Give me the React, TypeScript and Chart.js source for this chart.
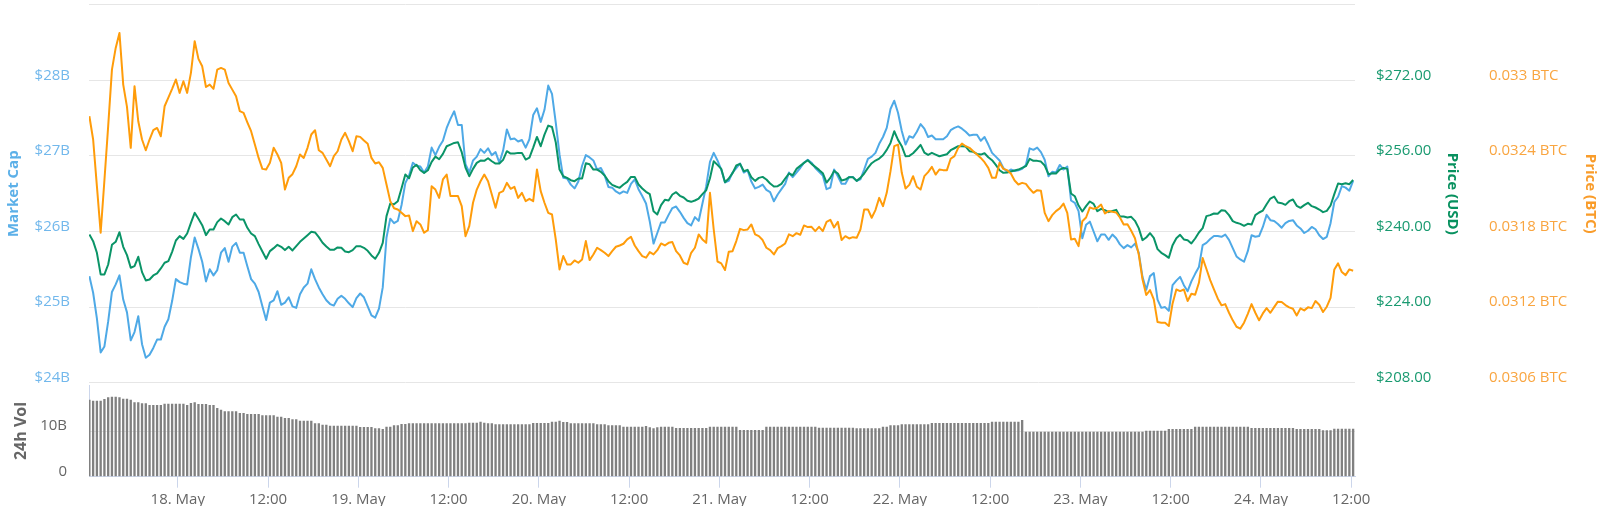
import React, { useEffect, useRef } from "react";
import { Chart, registerables } from "chart.js";

Chart.register(...registerables);

// time axis: hours since 17 May 00:00; every series is sampled every 30 minutes
const START_HOUR = 12.25;
const STEP_H = 0.5;
const X_MIN = 12.2;
const X_MAX = 180.5;

const dayLabels = ["18. May", "19. May", "20. May", "21. May", "22. May", "23. May", "24. May"];
const middayLabel = "12:00";

const capTicks = [24, 25, 26, 27, 28, 29];
const usdTicks = [208, 224, 240, 256, 272, 288];
const btcTicks = [0.0306, 0.0312, 0.0318, 0.0324, 0.033, 0.0336];
const volTicks = [0, 10, 20];

// Market cap, billions USD
const marketCapB = [
  25.41, 25.19, 24.85, 24.40, 24.48, 24.81, 25.20, 25.30, 25.42, 25.10,
  24.93, 24.56, 24.67, 24.88, 24.51, 24.33, 24.37, 24.46, 24.57, 24.57,
  24.74, 24.84, 25.08, 25.37, 25.33, 25.31, 25.30, 25.66, 25.92, 25.77,
  25.60, 25.34, 25.50, 25.42, 25.49, 25.72, 25.78, 25.60, 25.80, 25.85,
  25.72, 25.72, 25.54, 25.37, 25.31, 25.20, 25.01, 24.83, 25.06, 25.09,
  25.21, 25.03, 25.06, 25.13, 25.01, 24.99, 25.17, 25.26, 25.31, 25.50,
  25.37, 25.26, 25.17, 25.09, 25.04, 25.02, 25.11, 25.15, 25.11, 25.05,
  25.00, 25.12, 25.18, 25.13, 25.01, 24.89, 24.86, 24.98, 25.26, 25.92,
  26.17, 26.11, 26.14, 26.35, 26.64, 26.74, 26.91, 26.87, 26.86, 26.78,
  26.86, 27.11, 27.01, 27.12, 27.20, 27.37, 27.49, 27.59, 27.41, 27.41,
  26.89, 26.78, 26.94, 26.99, 27.09, 27.04, 27.10, 27.01, 27.05, 26.91,
  27.07, 27.35, 27.22, 27.23, 27.19, 27.21, 27.11, 27.22, 27.54, 27.63,
  27.45, 27.61, 27.93, 27.82, 27.44, 27.02, 26.71, 26.70, 26.62, 26.57,
  26.66, 26.87, 27.01, 26.98, 26.94, 26.82, 26.84, 26.74, 26.59, 26.58,
  26.53, 26.50, 26.53, 26.51, 26.63, 26.69, 26.56, 26.47, 26.37, 26.13,
  25.84, 25.98, 26.12, 26.12, 26.22, 26.31, 26.33, 26.26, 26.18, 26.11,
  26.08, 26.19, 26.14, 26.37, 26.60, 26.92, 27.04, 26.94, 26.82, 26.65,
  26.67, 26.78, 26.84, 26.90, 26.78, 26.81, 26.66, 26.57, 26.59, 26.62,
  26.55, 26.52, 26.40, 26.49, 26.56, 26.63, 26.78, 26.72, 26.78, 26.84,
  26.91, 26.95, 26.91, 26.84, 26.79, 26.74, 26.56, 26.58, 26.82, 26.73,
  26.63, 26.63, 26.72, 26.72, 26.67, 26.69, 26.82, 26.96, 26.99, 27.04,
  27.16, 27.25, 27.37, 27.62, 27.73, 27.57, 27.33, 27.15, 27.26, 27.24,
  27.32, 27.42, 27.36, 27.25, 27.27, 27.22, 27.22, 27.22, 27.26, 27.34,
  27.37, 27.39, 27.36, 27.32, 27.27, 27.28, 27.28, 27.20, 27.25, 27.15,
  27.04, 26.99, 26.94, 26.84, 26.79, 26.82, 26.80, 26.81, 26.83, 26.88,
  27.10, 27.08, 27.11, 27.05, 26.95, 26.73, 26.79, 26.78, 26.88, 26.82,
  26.86, 26.41, 26.38, 26.27, 25.91, 26.09, 26.13, 26.00, 25.87, 25.96,
  25.96, 25.89, 25.96, 25.91, 25.83, 25.78, 25.82, 25.79, 25.84, 25.72,
  25.40, 25.23, 25.41, 25.45, 25.10, 24.99, 25.00, 24.95, 25.29, 25.35,
  25.40, 25.29, 25.21, 25.34, 25.44, 25.53, 25.82, 25.85, 25.90, 25.94,
  25.94, 25.93, 25.96, 25.89, 25.78, 25.67, 25.63, 25.60, 25.74, 25.95,
  25.93, 25.94, 26.06, 26.22, 26.15, 26.14, 26.10, 26.05, 26.11, 26.14,
  26.15, 26.08, 26.04, 25.98, 26.01, 26.06, 26.03, 25.95, 25.90, 25.93,
  26.11, 26.39, 26.46, 26.60, 26.58, 26.54, 26.67,
];

// Price in USD
const priceUsd = [
  239.37, 237.96, 235.49, 230.91, 230.91, 233.02, 237.18, 237.82, 239.86, 236.76,
  235.00, 232.32, 232.67, 234.65, 231.40, 229.64, 229.85, 230.70, 231.12, 232.18,
  233.38, 233.73, 235.70, 238.10, 239.02, 238.45, 239.58, 241.84, 243.95, 242.68,
  241.34, 239.23, 240.43, 240.43, 241.98, 242.75, 242.19, 241.48, 243.03, 243.60,
  242.54, 242.54, 240.78, 239.58, 239.02, 237.33, 235.77, 234.23, 235.85, 236.48,
  237.18, 236.76, 236.06, 236.76, 235.99, 236.90, 237.82, 238.52, 239.23, 239.93,
  239.79, 238.81, 237.61, 236.83, 236.13, 236.13, 236.62, 236.55, 235.77, 235.63,
  236.06, 236.90, 236.90, 236.55, 235.91, 234.93, 234.23, 235.49, 237.61, 243.25,
  245.92, 245.78, 246.42, 249.17, 252.06, 251.28, 253.54, 254.10, 252.97, 252.41,
  252.97, 254.73, 255.86, 255.30, 256.43, 258.05, 258.40, 258.75, 258.89, 256.78,
  253.54, 251.70, 253.25, 254.52, 255.02, 254.95, 255.51, 254.87, 254.38, 254.38,
  255.16, 256.99, 256.50, 256.50, 256.64, 256.64, 255.23, 255.65, 257.76, 260.02,
  258.05, 260.51, 262.42, 262.13, 258.89, 253.11, 251.70, 251.35, 250.86, 250.65,
  251.21, 251.21, 254.45, 254.24, 253.11, 253.11, 252.62, 251.84, 250.65, 249.87,
  249.52, 249.24, 249.94, 250.50, 251.56, 251.56, 249.94, 249.10, 248.39, 247.90,
  244.30, 243.60, 245.57, 246.70, 246.56, 247.83, 248.32, 247.55, 247.19, 246.49,
  246.28, 246.56, 246.98, 247.90, 248.74, 251.28, 254.87, 254.10, 253.25, 250.43,
  251.21, 252.34, 253.96, 254.31, 252.76, 253.04, 251.49, 250.72, 251.35, 251.56,
  251.00, 250.15, 249.52, 249.59, 250.08, 251.21, 252.27, 251.91, 253.25, 253.89,
  254.52, 255.09, 254.31, 253.68, 253.04, 252.34, 250.36, 251.35, 252.83, 252.27,
  250.79, 251.00, 251.49, 251.49, 250.72, 251.35, 252.27, 253.47, 254.45, 255.02,
  255.44, 256.14, 257.27, 258.75, 261.22, 259.39, 258.05, 255.93, 256.00, 256.57,
  257.41, 258.33, 256.71, 256.21, 256.64, 256.28, 255.93, 256.14, 256.36, 257.20,
  257.62, 258.05, 258.05, 257.98, 256.99, 256.85, 256.43, 256.28, 256.57, 255.72,
  255.09, 254.10, 252.97, 252.41, 252.48, 252.69, 252.90, 253.11, 253.47, 253.82,
  255.37, 254.95, 254.95, 254.80, 253.96, 252.13, 252.34, 252.27, 253.11, 253.47,
  253.25, 248.04, 247.47, 245.50, 244.23, 245.36, 246.35, 245.85, 244.30, 244.80,
  244.51, 244.09, 244.37, 244.58, 243.17, 243.17, 242.96, 243.10, 242.26, 240.71,
  238.17, 238.73, 239.65, 238.66, 236.27, 235.49, 235.00, 234.43, 237.11, 238.59,
  239.30, 238.31, 238.17, 237.47, 238.52, 239.79, 240.71, 243.25, 243.46, 243.81,
  243.74, 244.51, 244.37, 243.46, 242.19, 241.84, 241.62, 241.20, 241.62, 241.48,
  243.46, 244.02, 244.44, 245.78, 246.98, 247.40, 246.13, 245.99, 245.64, 246.42,
  246.77, 245.43, 245.01, 245.57, 246.06, 245.36, 245.08, 244.65, 244.09, 244.37,
  245.50, 247.90, 250.15, 250.01, 250.22, 250.01, 250.93,
];

// Price in BTC
const priceBtc = [
  0.032715, 0.032530, 0.032160, 0.031790, 0.032207, 0.032636, 0.033085, 0.033257, 0.033376, 0.032966,
  0.032789, 0.032464, 0.032953, 0.032675, 0.032530, 0.032445, 0.032530, 0.032604, 0.032622, 0.032556,
  0.032794, 0.032863, 0.032932, 0.033006, 0.032900, 0.032992, 0.032900, 0.033059, 0.033310, 0.033170,
  0.033111, 0.032947, 0.032966, 0.032932, 0.033085, 0.033098, 0.033085, 0.032979, 0.032926, 0.032873,
  0.032755, 0.032741, 0.032667, 0.032596, 0.032490, 0.032384, 0.032297, 0.032292, 0.032345, 0.032464,
  0.032411, 0.032345, 0.032133, 0.032226, 0.032255, 0.032318, 0.032411, 0.032384, 0.032464, 0.032570,
  0.032604, 0.032445, 0.032424, 0.032371, 0.032318, 0.032398, 0.032437, 0.032530, 0.032583, 0.032517,
  0.032437, 0.032556, 0.032551, 0.032522, 0.032496, 0.032384, 0.032340, 0.032350, 0.032305, 0.032173,
  0.032041, 0.031985, 0.031975, 0.031948, 0.031922, 0.031927, 0.031803, 0.031882, 0.031856, 0.031790,
  0.031811, 0.032160, 0.032133, 0.032067, 0.032213, 0.032252, 0.032081, 0.032081, 0.032081, 0.032001,
  0.031763, 0.031843, 0.032028, 0.032133, 0.032199, 0.032252, 0.032199, 0.032094, 0.031988, 0.032107,
  0.032120, 0.032186, 0.032139, 0.032155, 0.032067, 0.032107, 0.032041, 0.032059, 0.032041, 0.032292,
  0.032120, 0.032028, 0.031948, 0.031935, 0.031737, 0.031499, 0.031605, 0.031539, 0.031539, 0.031570,
  0.031552, 0.031578, 0.031724, 0.031573, 0.031618, 0.031671, 0.031652, 0.031631, 0.031605, 0.031644,
  0.031679, 0.031689, 0.031703, 0.031737, 0.031758, 0.031689, 0.031644, 0.031605, 0.031592, 0.031636,
  0.031618, 0.031652, 0.031705, 0.031689, 0.031710, 0.031716, 0.031644, 0.031610, 0.031552, 0.031539,
  0.031631, 0.031671, 0.031777, 0.031737, 0.031710, 0.032107, 0.031816, 0.031562, 0.031547, 0.031494,
  0.031639, 0.031644, 0.031724, 0.031821, 0.031811, 0.031816, 0.031856, 0.031777, 0.031763, 0.031732,
  0.031671, 0.031652, 0.031618, 0.031668, 0.031684, 0.031705, 0.031777, 0.031763, 0.031787, 0.031774,
  0.031848, 0.031835, 0.031837, 0.031803, 0.031837, 0.031803, 0.031877, 0.031893, 0.031832, 0.031877,
  0.031732, 0.031763, 0.031745, 0.031755, 0.031750, 0.031816, 0.031975, 0.031975, 0.031909, 0.031970,
  0.032067, 0.032001, 0.032107, 0.032279, 0.032477, 0.032490, 0.032266, 0.032141, 0.032170, 0.032239,
  0.032155, 0.032133, 0.032239, 0.032271, 0.032313, 0.032252, 0.032292, 0.032287, 0.032287, 0.032377,
  0.032398, 0.032464, 0.032498, 0.032477, 0.032464, 0.032437, 0.032411, 0.032384, 0.032350, 0.032305,
  0.032226, 0.032226, 0.032345, 0.032297, 0.032287, 0.032260, 0.032205, 0.032173, 0.032186, 0.032178,
  0.032139, 0.032107, 0.032128, 0.032123, 0.031948, 0.031882, 0.031930, 0.031962, 0.031983, 0.032022,
  0.031948, 0.031737, 0.031742, 0.031684, 0.031882, 0.031911, 0.031991, 0.031980, 0.031988, 0.032014,
  0.031943, 0.031962, 0.031956, 0.031951, 0.031911, 0.031856, 0.031858, 0.031806, 0.031747, 0.031618,
  0.031420, 0.031296, 0.031335, 0.031261, 0.031081, 0.031076, 0.031076, 0.031050, 0.031229, 0.031340,
  0.031327, 0.031340, 0.031248, 0.031306, 0.031298, 0.031393, 0.031589, 0.031502, 0.031414, 0.031340,
  0.031269, 0.031214, 0.031224, 0.031155, 0.031095, 0.031044, 0.031029, 0.031076, 0.031147, 0.031224,
  0.031155, 0.031095, 0.031150, 0.031192, 0.031155, 0.031200, 0.031243, 0.031240, 0.031216, 0.031198,
  0.031187, 0.031134, 0.031190, 0.031174, 0.031198, 0.031192, 0.031248, 0.031219, 0.031161, 0.031203,
  0.031274, 0.031499, 0.031547, 0.031478, 0.031454, 0.031499, 0.031488,
];

// 24h volume, billions USD
const volume24hB = [
  16.85, 16.63, 16.63, 16.63, 17.0, 17.37, 17.5, 17.5, 17.37, 17.07,
  17.07, 16.85, 16.27, 16.27, 16.06, 16.06, 15.69, 15.69, 15.69, 15.69,
  15.97, 15.97, 15.97, 15.97, 15.97, 15.97, 15.69, 16.13, 16.27, 15.91,
  15.91, 15.91, 15.69, 15.69, 15.03, 14.66, 14.31, 14.31, 14.31, 14.31,
  13.94, 13.94, 13.72, 13.72, 13.72, 13.72, 13.43, 13.43, 13.43, 13.43,
  13.13, 13.13, 12.84, 12.84, 12.55, 12.55, 12.25, 12.25, 12.25, 12.25,
  11.68, 11.68, 11.38, 11.38, 11.16, 11.16, 11.16, 11.16, 11.16, 11.16,
  11.16, 11.16, 10.87, 10.87, 10.87, 10.87, 10.59, 10.59, 10.44, 10.94,
  10.94, 11.25, 11.25, 11.53, 11.53, 11.68, 11.68, 11.68, 11.68, 11.68,
  11.68, 11.68, 11.68, 11.68, 11.68, 11.68, 11.68, 11.68, 11.68, 11.68,
  11.68, 11.82, 11.82, 11.82, 12.04, 11.82, 11.68, 11.68, 11.47, 11.47,
  11.47, 11.47, 11.47, 11.47, 11.47, 11.47, 11.47, 11.47, 11.75, 11.75,
  11.75, 11.75, 11.75, 12.04, 12.04, 12.25, 11.96, 11.96, 11.68, 11.68,
  11.68, 11.68, 11.68, 11.68, 11.68, 11.47, 11.47, 11.47, 11.25, 11.25,
  11.25, 11.25, 10.94, 10.94, 10.94, 10.94, 10.94, 10.94, 11.09, 10.81,
  10.59, 10.81, 10.94, 10.94, 10.94, 10.94, 10.66, 10.66, 10.66, 10.66,
  10.66, 10.66, 10.66, 10.66, 10.66, 10.94, 10.94, 10.94, 10.94, 10.94,
  10.94, 10.94, 10.94, 10.2, 10.2, 10.2, 10.2, 10.2, 10.2, 10.2,
  10.94, 10.94, 10.94, 10.94, 10.94, 10.94, 10.94, 10.94, 10.94, 10.94,
  10.94, 10.94, 10.94, 10.94, 10.73, 10.73, 10.73, 10.73, 10.73, 10.73,
  10.73, 10.73, 10.73, 10.73, 10.59, 10.59, 10.59, 10.59, 10.59, 10.59,
  10.59, 10.94, 10.94, 11.25, 11.25, 11.25, 11.47, 11.47, 11.47, 11.47,
  11.47, 11.47, 11.47, 11.47, 11.75, 11.75, 11.75, 11.75, 11.75, 11.75,
  11.75, 11.75, 11.75, 11.75, 11.75, 11.75, 11.75, 11.75, 11.75, 11.75,
  12.04, 12.04, 12.04, 12.04, 12.04, 12.04, 12.04, 12.04, 12.4, 9.85,
  9.85, 9.85, 9.85, 9.85, 9.85, 9.85, 9.85, 9.85, 9.85, 9.85,
  9.85, 9.85, 9.85, 9.85, 9.85, 9.85, 9.85, 9.85, 9.85, 9.85,
  9.85, 9.85, 9.85, 9.85, 9.85, 9.85, 9.85, 9.85, 9.85, 9.85,
  9.85, 10.07, 10.07, 10.07, 10.07, 10.07, 10.07, 10.44, 10.44, 10.44,
  10.44, 10.44, 10.44, 10.44, 10.94, 10.94, 10.94, 10.94, 10.94, 10.94,
  10.94, 10.94, 10.94, 10.94, 10.94, 10.94, 10.94, 10.94, 10.94, 10.66,
  10.66, 10.66, 10.66, 10.66, 10.66, 10.66, 10.66, 10.66, 10.66, 10.66,
  10.66, 10.44, 10.44, 10.44, 10.44, 10.44, 10.44, 10.44, 10.15, 10.15,
  10.15, 10.5, 10.5, 10.5, 10.5, 10.5, 10.5,
];

const BLUE_LINE = "#4ea9e6";
const BLUE_TEXT = "#72b8ec";
const BLUE_TITLE = "#5cb0e8";
const GREEN_LINE = "#0a9467";
const GREEN_TEXT = "#199a70";
const GREEN_TITLE = "#08915f";
const ORANGE_LINE = "#ff9c0a";
const ORANGE_TEXT = "#f9a540";
const ORANGE_TITLE = "#f99c2a";
const GRID = "#e6e6e6";
const AXIS_LINE = "#ccd6eb";
const GRAY_TEXT = "#666666";
const BAR = "#808080";
const FONT = "'Open Sans', sans-serif";

function toPoints(values: number[]) {
  return values.map((v, i) => ({ x: START_HOUR + i * STEP_H, y: v }));
}

function fixedTicks(list: number[]) {
  return (scale: any) => {
    scale.ticks = list.map((v) => ({ value: v }));
  };
}

function fixedWidth(w: number) {
  return (scale: any) => {
    scale.width = w;
    scale.paddingTop = 0;
    scale.paddingBottom = 0;
  };
}

export default function App() {
  const topRef = useRef<HTMLCanvasElement>(null);
  const volRef = useRef<HTMLCanvasElement>(null);

  useEffect(() => {
    Chart.defaults.font.family = FONT;
    const labelFont = { family: FONT, size: 15 };
    const titleFont = { family: FONT, size: 15, weight: "bold" as const };
    const LABEL_SHIFT = -5;

    const lineStyle = {
      borderWidth: 2,
      pointRadius: 0,
      tension: 0,
      borderJoinStyle: "round" as const,
    };

    const top = new Chart(topRef.current as HTMLCanvasElement, {
      type: "line",
      data: {
        datasets: [
          { label: "Price (BTC)", data: toPoints(priceBtc), yAxisID: "yBtc", borderColor: ORANGE_LINE, order: 0, ...lineStyle },
          { label: "Price (USD)", data: toPoints(priceUsd), yAxisID: "yUsd", borderColor: GREEN_LINE, order: 1, ...lineStyle },
          { label: "Market Cap", data: toPoints(marketCapB), yAxisID: "yCap", borderColor: BLUE_LINE, order: 2, ...lineStyle },
        ],
      },
      options: {
        animation: false,
        responsive: false,
        maintainAspectRatio: false,
        events: [],
        layout: { padding: { top: 4.7, bottom: 7.3, left: 0, right: 0 } },
        plugins: { legend: { display: false }, tooltip: { enabled: false } },
        scales: {
          x: { type: "linear", min: X_MIN, max: X_MAX, display: false },
          yCap: {
            type: "linear",
            position: "left",
            min: 24,
            max: 29,
            afterBuildTicks: fixedTicks(capTicks),
            afterFit: fixedWidth(89),
            grid: { color: GRID, lineWidth: 1, drawTicks: false },
            border: { display: false },
            ticks: {
              padding: 19,
              labelOffset: LABEL_SHIFT,
              color: BLUE_TEXT,
              font: labelFont,
              callback: (v: any) => (v === 29 ? "" : `$${v}B`),
            },
            title: {
              display: true,
              text: "Market Cap",
              color: BLUE_TITLE,
              font: titleFont,
              padding: { top: 5, bottom: 0 },
            },
          },
          yUsd: {
            type: "linear",
            position: "right",
            min: 208,
            max: 288,
            afterBuildTicks: fixedTicks(usdTicks),
            afterFit: fixedWidth(106.5),
            grid: { drawOnChartArea: false, drawTicks: false },
            border: { display: false },
            ticks: {
              padding: 21,
              labelOffset: LABEL_SHIFT,
              color: GREEN_TEXT,
              font: labelFont,
              callback: (v: any) => (v === 288 ? "" : `$${Number(v).toFixed(2)}`),
            },
            title: {
              display: true,
              text: "Price (USD)",
              color: GREEN_TITLE,
              font: titleFont,
              padding: { top: 0, bottom: 0 },
            },
          },
          yBtc: {
            type: "linear",
            position: "right",
            min: 0.0306,
            max: 0.0336,
            afterBuildTicks: fixedTicks(btcTicks),
            afterFit: fixedWidth(138.5),
            grid: { drawOnChartArea: false, drawTicks: false },
            border: { display: false },
            ticks: {
              padding: 27.5,
              labelOffset: LABEL_SHIFT,
              color: ORANGE_TEXT,
              font: labelFont,
              callback: (v: any) => (v === 0.0336 ? "" : `${v} BTC`),
            },
            title: {
              display: true,
              text: "Price (BTC)",
              color: ORANGE_TITLE,
              font: titleFont,
              padding: { top: 1, bottom: 0 },
            },
          },
        },
      },
    } as any);

    const vol = new Chart(volRef.current as HTMLCanvasElement, {
      type: "bar",
      data: {
        datasets: [
          {
            label: "24h Vol",
            data: toPoints(volume24hB),
            yAxisID: "yVol",
            backgroundColor: BAR,
            borderWidth: 0,
            barPercentage: 0.62,
            categoryPercentage: 1,
          },
        ],
      },
      options: {
        animation: false,
        responsive: false,
        maintainAspectRatio: false,
        events: [],
        layout: { padding: { top: 5.3, bottom: 0, left: 0, right: 245 } },
        plugins: { legend: { display: false }, tooltip: { enabled: false } },
        scales: {
          x: {
            type: "linear",
            min: X_MIN,
            max: X_MAX,
            offset: false,
            afterBuildTicks: (scale: any) => {
              const list: { value: number }[] = [];
              for (let h = 24; h <= 180; h += 12) list.push({ value: h });
              scale.ticks = list;
            },
            afterFit: (scale: any) => {
              scale.height = 29.3;
              scale.paddingLeft = 0;
              scale.paddingRight = 0;
            },
            grid: {
              offset: false,
              drawOnChartArea: false,
              drawTicks: true,
              tickLength: 11,
              tickColor: AXIS_LINE,
              tickWidth: 1,
            },
            border: { display: true, color: AXIS_LINE, width: 1 },
            ticks: {
              autoSkip: false,
              maxRotation: 0,
              padding: 3,
              color: GRAY_TEXT,
              font: labelFont,
              callback: (v: any) => (v % 24 === 0 ? dayLabels[v / 24 - 1] : middayLabel),
            },
          },
          yVol: {
            type: "linear",
            position: "left",
            min: 0,
            max: 20,
            afterBuildTicks: fixedTicks(volTicks),
            afterFit: fixedWidth(89),
            grid: {
              drawTicks: false,
              color: (ctx: any) => (ctx.tick && ctx.tick.value === 10 ? GRID : "rgba(0,0,0,0)"),
            },
            border: { display: true, color: AXIS_LINE, width: 1 },
            ticks: {
              padding: 22,
              labelOffset: LABEL_SHIFT,
              color: GRAY_TEXT,
              font: labelFont,
              callback: (v: any) => (v === 0 ? "0" : v === 10 ? "10B" : ""),
            },
            title: {
              display: true,
              text: "24h Vol",
              color: GRAY_TEXT,
              font: { family: FONT, size: 16, weight: "bold" },
              padding: { top: 11.4, bottom: 0 },
            },
          },
        },
      },
    } as any);

    return () => {
      top.destroy();
      vol.destroy();
    };
  }, []);

  return (
    <div style={{ position: "absolute", left: 0, top: 0, width: 1600, height: 506, background: "#fff" }}>
      <canvas
        ref={topRef}
        width={1600}
        height={390}
        style={{ position: "absolute", left: 0, top: 0, width: 1600, height: 390, display: "block" }}
      />
      <canvas
        ref={volRef}
        width={1600}
        height={126}
        style={{ position: "absolute", left: 0, top: 380, width: 1600, height: 126, display: "block" }}
      />
    </div>
  );
}
